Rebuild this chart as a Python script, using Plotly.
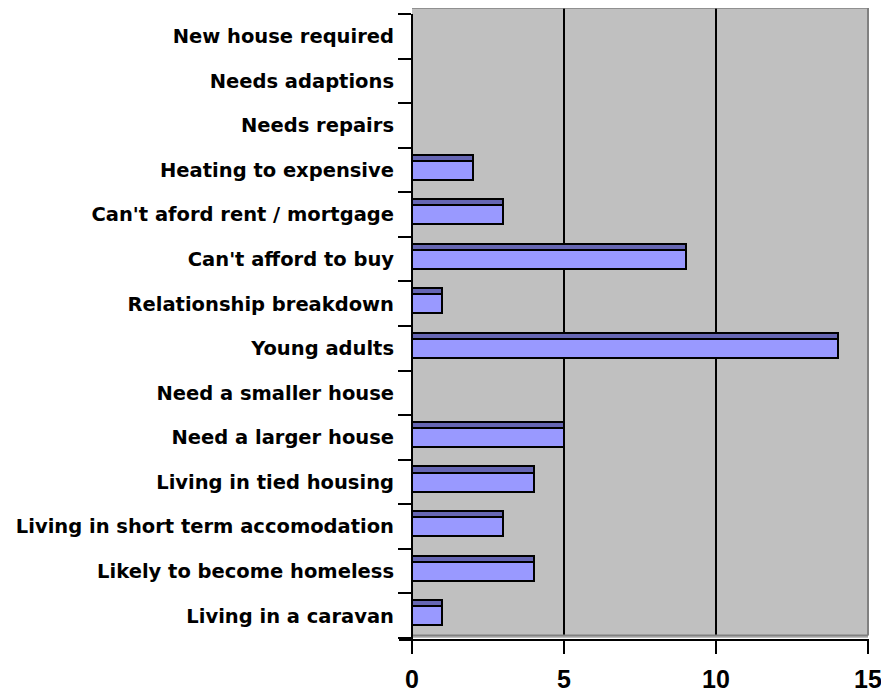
import plotly.graph_objects as go

categories = [
    "Living in a caravan",
    "Likely to become homeless",
    "Living in short term accomodation",
    "Living in tied housing",
    "Need a larger house",
    "Need a smaller house",
    "Young adults",
    "Relationship breakdown",
    "Can't afford to buy",
    "Can't aford rent / mortgage",
    "Heating to expensive",
    "Needs repairs",
    "Needs adaptions",
    "New house required",
]
values = [1, 4, 3, 4, 5, 0, 14, 1, 9, 3, 2, 0, 0, 0]
x_ticks = [0, 5, 10, 15]
grid_values = [5, 10]

# page body has an 8px margin, so the figure is a little smaller and shifted
W, H = 881, 692
ML, MR, MT, MB = 404, 21, 0, 62
plot_h = H - MT - MB
plot_w = W - ML - MR
band = 44.5
extra = 6 / band

fig = go.Figure()
fig.add_trace(go.Bar(
    y=categories, x=values, orientation="h",
    width=0.427, offset=-0.213,
    marker=dict(color="#9999ff", line=dict(color="black", width=2)),
    hoverinfo="x+y", showlegend=False,
))
fig.add_trace(go.Bar(
    y=categories, x=values, orientation="h",
    width=0.135, offset=0.213,
    marker=dict(color="#6666b3", line=dict(color="black", width=2)),
    hoverinfo="skip", showlegend=False,
))

shapes = []
for g in grid_values:
    shapes.append(dict(type="line", xref="x", yref="paper", x0=g, x1=g, y0=0.004, y1=1,
                       line=dict(color="black", width=2), layer="below"))
# top wall edge
shapes.append(dict(type="line", xref="paper", yref="paper", x0=0, x1=1, y0=1, y1=1,
                   line=dict(color="#808080", width=1.5)))
# right wall edge
shapes.append(dict(type="line", xref="paper", yref="paper", x0=1, x1=1, y0=0.004, y1=1,
                   line=dict(color="#808080", width=2)))
# floor edge
shapes.append(dict(type="line", xref="paper", yref="paper", x0=0, x1=1, y0=0.004, y1=0.004,
                   line=dict(color="#808080", width=2)))
# x axis line
shapes.append(dict(type="line", xref="paper", yref="paper", x0=-13 / plot_w, x1=1,
                   y0=-2 / plot_h, y1=-2 / plot_h, line=dict(color="black", width=2)))
# y axis line
shapes.append(dict(type="line", xref="paper", yref="paper", x0=0, x1=0,
                   y0=-15 / plot_h, y1=1 - 6 / plot_h, line=dict(color="black", width=2)))

fig.update_layout(
    width=W, height=H,
    margin=dict(l=ML, r=MR, t=MT, b=MB, pad=0),
    paper_bgcolor="white", plot_bgcolor="#c0c0c0",
    barmode="overlay", bargap=0,
    shapes=shapes,
    xaxis=dict(
        range=[0, 15], tickvals=x_ticks, ticktext=[str(v) for v in x_ticks],
        showgrid=False, zeroline=False, showline=False,
        ticks="outside", ticklen=15, tickwidth=2, tickcolor="black",
        tickfont=dict(family="Liberation Sans", size=25, color="black", weight="bold"),
        ticklabelstandoff=4, fixedrange=True,
    ),
    yaxis=dict(
        type="category", categoryorder="array", categoryarray=categories,
        range=[-0.5, 13.5 + extra],
        showgrid=False, zeroline=False, showline=False,
        ticks="outside", tickson="boundaries", ticklen=13, tickwidth=2, tickcolor="black",
        tickfont=dict(family="DejaVu Sans", size=19.5, color="black", weight="bold"),
        ticklabelstandoff=17, fixedrange=True,
    ),
)

fig.write_html("out.html")
